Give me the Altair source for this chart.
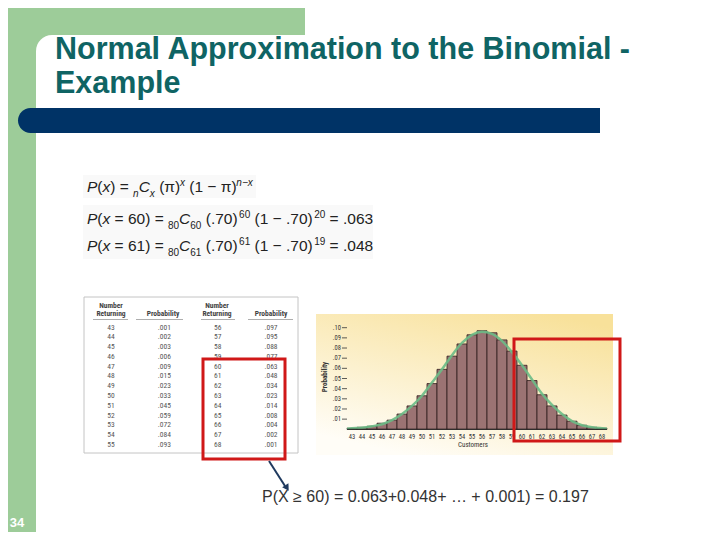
import altair as alt
import pandas as pd

# ---------------- data ----------------
customers = [43, 44, 45, 46, 47, 48, 49, 50, 51, 52, 53, 54, 55,
             56, 57, 58, 59, 60, 61, 62, 63, 64, 65, 66, 67, 68]
probability = [0.001, 0.002, 0.003, 0.006, 0.009, 0.015, 0.023, 0.033, 0.045,
               0.059, 0.072, 0.084, 0.093, 0.097, 0.095, 0.088, 0.077, 0.063,
               0.048, 0.034, 0.023, 0.014, 0.008, 0.004, 0.002, 0.001]
curve_x = [42.5, 43, 44, 45, 46, 47, 48, 49, 50, 51, 52, 53, 54, 55,
           56, 57, 58, 59, 60, 61, 62, 63, 64, 65, 66, 67, 68, 68.5]
curve_y = [0.0006, 0.001, 0.0015, 0.003, 0.005, 0.009, 0.015, 0.023, 0.033,
           0.046, 0.059, 0.073, 0.085, 0.093, 0.096, 0.094, 0.087, 0.076,
           0.063, 0.049, 0.035, 0.024, 0.015, 0.008, 0.004, 0.002, 0.001, 0.0006]
y_ticks = [0.01, 0.02, 0.03, 0.04, 0.05, 0.06, 0.07, 0.08, 0.09, 0.10]
y_tick_labels = [".01", ".02", ".03", ".04", ".05", ".06", ".07", ".08", ".09", ".10"]

title_lines = ["Normal Approximation to the Binomial -", "Example"]
# formula pieces: (text, style)  style: n = normal, i = italic, sb = subscript, sp = superscript
formula_1 = [("P", "i"), ("(", "n"), ("x", "i"), (") = ", "n"), ("n", "sb"), ("C", "i"),
             ("x", "sb"), (" (\u03c0)", "n"), ("x", "sp"), (" (1 \u2212 \u03c0)", "n"),
             ("n\u2212x", "sp")]
formula_2 = [("P", "i"), ("(", "n"), ("x", "i"), (" = 60) = ", "n"), ("80", "sb"), ("C", "i"),
             ("60", "sb"), (" (.70)", "n"), ("60", "sp"), (" (1 \u2212 .70)", "n"),
             ("20", "sp"), (" = .063", "n")]
formula_3 = [("P", "i"), ("(", "n"), ("x", "i"), (" = 61) = ", "n"), ("80", "sb"), ("C", "i"),
             ("61", "sb"), (" (.70)", "n"), ("61", "sp"), (" (1 \u2212 .70)", "n"),
             ("19", "sp"), (" = .048", "n")]
table_header_top = ["Number", "", "Number", ""]
table_header_bottom = ["Returning", "Probability", "Returning", "Probability"]
x_title = "Customers"
y_title = "Probability"
summary_text = "P(X \u2265 60) = 0.063+0.048+ \u2026 + 0.001) = 0.197"
slide_number = "34"

# ---------------- styles ----------------
GREEN = "#9dcc99"
NAVY = "#003366"
TEAL = "#0f6464"
RED = "#d01818"
BAR = "#9b7373"
NARROW = "Liberation Sans Narrow, Roboto Condensed, Liberation Sans, Arial"
SANS = "Liberation Sans, Arial"
OX, OY = 8, 8  # page margin

blank = pd.DataFrame({"k": [0]})


def rect(x1, y1, x2, y2, **kw):
    return alt.Chart(blank).mark_rect(**kw).encode(
        x=alt.value(x1 - OX), x2=alt.value(x2 - OX),
        y=alt.value(y1 - OY), y2=alt.value(y2 - OY))


def rule(x1, y1, x2, y2, **kw):
    return alt.Chart(blank).mark_rule(**kw).encode(
        x=alt.value(x1 - OX), x2=alt.value(x2 - OX),
        y=alt.value(y1 - OY), y2=alt.value(y2 - OY))


def label(t, x, y, **kw):
    return alt.Chart(blank).mark_text(**kw).encode(
        x=alt.value(x - OX), y=alt.value(y - OY), text=alt.value(t))


# Arial / Liberation Sans advance widths (per em) for laying out formula pieces
ADV = {"P": .667, "(": .333, ")": .333, "x": .5, " ": .278, "=": .584, "C": .722,
       ".": .278, "\u2212": .584, "\u03c0": .58, "n": .556}
for d in "0123456789":
    ADV[d] = .556


def formula(pieces, x0, y0, size=15.5, small=10):
    layers = []
    x = x0
    for txt, st in pieces:
        fs = small if st in ("sb", "sp") else size
        dy = 4.5 if st == "sb" else (-6 if st == "sp" else 0)
        core = txt.strip(" ")
        lead = len(txt) - len(txt.lstrip(" "))
        trail = len(txt) - len(txt.rstrip(" "))
        x += lead * ADV[" "] * fs
        if st == "sp":
            x += 1.5
        italic = st == "i" or (st in ("sb", "sp") and core[0] in "nx")
        layers.append(label(core, x, y0 + dy, font=SANS, fontSize=fs, color="#222",
                            fontStyle="italic" if italic else "normal",
                            align="left", baseline="alphabetic"))
        x += sum(ADV.get(c, .556) for c in core) * fs + trail * ADV[" "] * fs
    return layers


# ---------------- slide decoration ----------------
deco = [
    rect(0, 0, 305, 70, fill=GREEN),
    rect(36, 35, 340, 100, fill="white", cornerRadiusTopLeft=16),
    rect(0, 0, 36, 548, fill=GREEN),
    rect(18, 108, 600, 133, fill=NAVY, cornerRadiusTopLeft=12.5, cornerRadiusBottomLeft=12.5),
    label(slide_number, 17, 523, font=SANS, fontSize=13, fontWeight="bold",
          color="white", align="center", baseline="middle"),
    label(title_lines[0], 55, 59, font=SANS, fontSize=30.5, fontWeight="bold", color=TEAL,
          align="left", baseline="alphabetic"),
    label(title_lines[1], 55, 93, font=SANS, fontSize=30.5, fontWeight="bold", color=TEAL,
          align="left", baseline="alphabetic"),
    rect(83, 175, 256, 198, fill="#f9f9f9"),
    rect(83, 205, 373, 259, fill="#f9f9f9"),
]
deco += formula(formula_1, 87, 192)
deco += formula(formula_2, 87, 224)
deco += formula(formula_3, 87, 251)

# ---------------- table ----------------
table_box = rect(84, 297, 298, 453, fill="white", stroke="#c4c4c4", strokeWidth=1)
header_x = [111, 163, 217, 271]
headers = []
for top, bot, hx in zip(table_header_top, table_header_bottom, header_x):
    if top:
        headers.append(label(top, hx, 306, font=NARROW, fontSize=7.5, fontWeight="bold",
                             color="#444", align="center", baseline="middle"))
    headers.append(label(bot, hx, 314, font=NARROW, fontSize=7.5, fontWeight="bold",
                         color="#444", align="center", baseline="middle"))
underlines = [rule(a, 319.5, b, 319.5, color="#999", strokeWidth=0.8)
              for a, b in [(93, 128), (136, 183), (201, 235), (248, 293)]]

rows = []
for i in range(13):
    for side in range(2):
        k = i + 13 * side
        rows.append({"row": i, "col": 2 * side, "txt": str(customers[k])})
        rows.append({"row": i, "col": 2 * side + 1, "txt": f"{probability[k]:.3f}"[1:]})
table_df = pd.DataFrame(rows)
table_cells = alt.Chart(table_df).mark_text(
    font=NARROW, fontSize=7.5, color="#555", align="center", baseline="middle"
).encode(
    x=alt.X("col:Q", scale=alt.Scale(domain=[0, 3], range=[111 - OX, 271 - OX], nice=False, zero=False), axis=None),
    y=alt.Y("row:Q", scale=alt.Scale(domain=[0, 12], range=[327.5 - OY, 445 - OY], nice=False, zero=False), axis=None),
    text="txt:N",
)

# ---------------- histogram ----------------
panel_grad = alt.LinearGradient(
    gradient="linear",
    stops=[alt.GradientStop(offset=0, color="#f8e19a"),
           alt.GradientStop(offset=1, color="#fffdf7")],
    x1=0.8, y1=0, x2=0.3, y2=1)
panel = rect(316, 314, 613, 455, fill=panel_grad)

hist_df = pd.DataFrame({"customers": customers, "probability": probability})
curve_df = pd.DataFrame({"cx": curve_x, "cy": curve_y})
tick_df = pd.DataFrame({"tick": y_ticks, "lab": y_tick_labels})

xs = alt.Scale(domain=[42.5, 68.5], range=[347 - OX, 607 - OX], nice=False, zero=False)
ys = alt.Scale(domain=[0, 0.10], range=[429.3 - OY, 327.7 - OY], nice=False, zero=False)

bars = alt.Chart(hist_df).transform_calculate(
    lo="datum.customers - 0.5", hi="datum.customers + 0.5"
).mark_rect(fill=BAR, stroke="#2e1c1c", strokeWidth=0.8).encode(
    x=alt.X("lo:Q", scale=xs, axis=None),
    x2="hi:Q",
    y=alt.Y("probability:Q", scale=ys, axis=None),
    y2=alt.datum(0),
)
curve = alt.Chart(curve_df).mark_line(
    interpolate="monotone", color="#6cbb86", strokeWidth=2.5, opacity=0.9
).encode(
    x=alt.X("cx:Q", scale=xs, axis=None),
    y=alt.Y("cy:Q", scale=ys, axis=None),
)
x_labels = alt.Chart(hist_df).mark_text(
    font=NARROW, fontSize=6.5, color="#333", align="center", baseline="middle"
).encode(
    x=alt.X("customers:Q", scale=xs, axis=None),
    y=alt.value(437 - OY),
    text=alt.Text("customers:Q", format="d"),
)
y_labels = alt.Chart(tick_df).mark_text(
    font=NARROW, fontSize=6.5, color="#333", align="right", baseline="middle"
).encode(
    x=alt.value(341 - OX),
    y=alt.Y("tick:Q", scale=ys, axis=None),
    text="lab:N",
)
y_tickmarks = alt.Chart(tick_df).mark_rule(color="#333", strokeWidth=0.8).encode(
    x=alt.value(342 - OX), x2=alt.value(347 - OX),
    y=alt.Y("tick:Q", scale=ys, axis=None),
)
histogram = alt.layer(bars, curve, y_tickmarks, y_labels, x_labels)
hist_frame = [
    rule(347, 429.3, 607, 429.3, color="#222", strokeWidth=1),
    label(x_title, 473, 445, font=NARROW, fontSize=7, color="#333",
          align="center", baseline="middle"),
    label(y_title, 325, 377, font=NARROW, fontSize=7, fontWeight="bold", color="#333",
          align="center", baseline="middle", angle=270),
]

# ---------------- highlights and note ----------------
notes = [
    rect(203, 359, 285, 459, fill="white", fillOpacity=0, stroke=RED, strokeWidth=3),
    rect(514, 339, 620, 441, fill="white", fillOpacity=0, stroke=RED, strokeWidth=3),
    rule(269, 461, 285, 486, color="#1f3a5f", strokeWidth=2),
    alt.Chart(blank).mark_point(shape="triangle-up", angle=148, size=55, filled=True,
                                color="#1f3a5f", opacity=1).encode(
        x=alt.value(287 - OX), y=alt.value(488 - OY)),
    label(summary_text, 262, 497, font=SANS, fontSize=16, color="#333",
          align="left", baseline="middle"),
]

chart = alt.layer(
    *deco, table_box, *headers, *underlines, table_cells, panel, histogram,
    *hist_frame, *notes
).resolve_scale(x="independent", y="independent").properties(
    width=704, height=524, autosize="none", padding=0, background="white"
).configure_view(strokeWidth=0)

chart.save("out.html", embed_options={"renderer": "svg", "actions": False})
